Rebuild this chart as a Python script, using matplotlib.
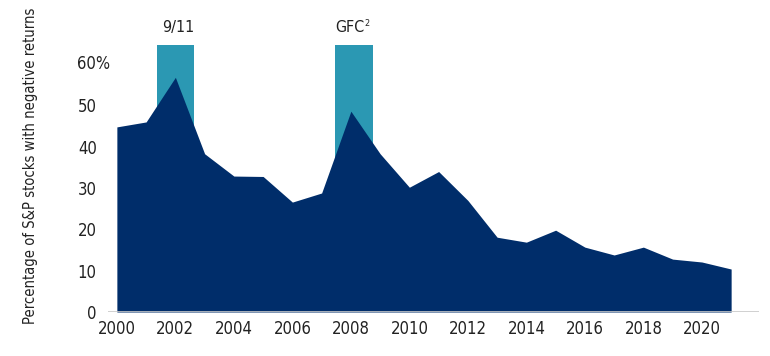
import matplotlib
matplotlib.use('Agg')
import matplotlib.pyplot as plt
from matplotlib import rcParams
rcParams['font.family'] = ['DejaVu Sans']
rcParams['font.stretch'] = 'condensed'

years = [2000, 2001, 2002, 2003, 2004, 2005, 2006, 2007, 2008, 2009, 2010,
         2011, 2012, 2013, 2014, 2015, 2016, 2017, 2018, 2019, 2020, 2021]
pct_negative = [44.8, 46.0, 56.8, 38.3, 32.9, 32.8, 26.6, 28.8, 48.6, 38.3, 30.2,
                34.0, 27.0, 18.1, 16.9, 19.8, 15.7, 13.8, 15.7, 12.8, 12.1, 10.4]
event_years = [2002, 2008.1]
event_labels = ['9/11', 'GFC']
event_height = 64.6
yticks = [0, 10, 20, 30, 40, 50]
xticks = list(range(2000, 2021, 2))

navy = '#002D6A'
teal = '#2B98B3'
txt = '#222222'

fig = plt.figure(figsize=(7.7, 3.56), dpi=100)
ax = fig.add_axes([0.140, 0.1236, 0.846, 0.7544])

ax.bar(event_years, event_height, width=1.28, color=teal, zorder=1)
lab_y = event_height + 2.4
ax.text(event_years[0] + 0.1, lab_y, event_labels[0], ha='center', va='bottom',
        fontsize=11.5, color=txt, clip_on=False)
ax.text(event_years[1] - 0.12, lab_y, event_labels[1], ha='center', va='bottom',
        fontsize=11.5, color=txt, clip_on=False)
# footnote marker on GFC
ax.annotate('2', xy=(event_years[1] - 0.12, lab_y), xytext=(10.5, 5.5),
            textcoords='offset points', fontsize=6.5, color=txt, ha='left', va='bottom',
            annotation_clip=False)

ax.fill_between(years, 0, pct_negative, color=navy, linewidth=0, zorder=2)
ax.axhline(0, color='#c8c8c8', linewidth=1.2, zorder=3)

ax.set_xlim(1999.69, 2021.96)
ax.set_ylim(0, 65)
ax.set_xticks(xticks)
ax.set_xticklabels([str(x) for x in xticks])
ax.set_yticks(yticks)
ax.set_yticklabels([str(y) for y in yticks])
ax.tick_params(length=0, labelsize=12, colors=txt)
ax.tick_params(axis='y', pad=8)
ax.tick_params(axis='x', pad=6)
# 60% label: number aligned with others, % hanging to the right
ax.text(-0.048, 60, '60%', transform=ax.get_yaxis_transform(), ha='left', va='center',
        fontsize=12, color=txt)
for s in ax.spines.values():
    s.set_visible(False)

fig.text(0.039, 0.534, 'Percentage of S&P stocks with negative returns', rotation=90,
         ha='center', va='center', fontsize=10.6, color=txt)

fig.savefig('out.png', dpi=100)
